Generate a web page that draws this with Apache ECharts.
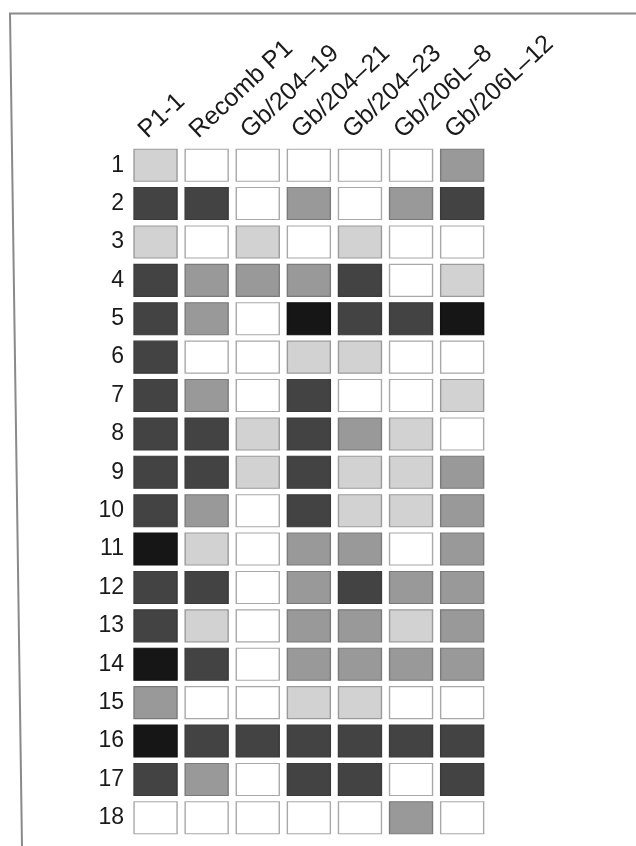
<!DOCTYPE html>
<html>
<head>
<meta charset="utf-8">
<script src="https://cdn.jsdelivr.net/npm/echarts@6/dist/echarts.min.js"></script>
<style>
html,body{margin:0;padding:0;background:#fff;}
#main{width:636px;height:846px;}
</style>
</head>
<body>
<div id="main"></div>
<script>
// Column (sample) labels
const columns = ['P1-1', 'Recomb P1', 'Gb/204\u201319', 'Gb/204\u201321', 'Gb/204\u201323', 'Gb/206L\u20138', 'Gb/206L\u201312'];
// Row labels
const rows = ['1','2','3','4','5','6','7','8','9','10','11','12','13','14','15','16','17','18'];
// Intensity level per row (0 = none ... 4 = strongest), one value per column
const row1  = [1,0,0,0,0,0,2];
const row2  = [3,3,0,2,0,2,3];
const row3  = [1,0,1,0,1,0,0];
const row4  = [3,2,2,2,3,0,1];
const row5  = [3,2,0,4,3,3,4];
const row6  = [3,0,0,1,1,0,0];
const row7  = [3,2,0,3,0,0,1];
const row8  = [3,3,1,3,2,1,0];
const row9  = [3,3,1,3,1,1,2];
const row10 = [3,2,0,3,1,1,2];
const row11 = [4,1,0,2,2,0,2];
const row12 = [3,3,0,2,3,2,2];
const row13 = [3,1,0,2,2,1,2];
const row14 = [4,3,0,2,2,2,2];
const row15 = [2,0,0,1,1,0,0];
const row16 = [4,3,3,3,3,3,3];
const row17 = [3,2,0,3,3,0,3];
const row18 = [0,0,0,0,0,2,0];
const levels = [row1,row2,row3,row4,row5,row6,row7,row8,row9,row10,row11,row12,row13,row14,row15,row16,row17,row18];

const fillColors   = ['#ffffff', '#d2d2d2', '#999999', '#434343', '#161616'];
const borderColors = ['#a8a8a8', '#9a9a9a', '#7a7a7a', '#3a3a3a', '#111111'];

const data = [];
levels.forEach((r, ri) => r.forEach((v, ci) => data.push({
  value: [ci, ri, v],
  itemStyle: {color: fillColors[v], borderColor: borderColors[v]}
})));

const chart = echarts.init(document.getElementById('main'), null, {renderer: 'canvas'});
const font = '"Liberation Sans", Arial, Helvetica, sans-serif';
chart.setOption({
  animation: false,
  backgroundColor: '#ffffff',
  graphic: [{
    type: 'polyline',
    shape: {points: [[22, 846], [10, 13.5], [640, 13.5]]},
    style: {stroke: '#8a8a8a', lineWidth: 2, fill: null},
    silent: true
  }],
  grid: [
    {left: 130, width: 357.7, top: 146, height: 691},
    {left: 117, width: 357.7, top: 146, height: 1}
  ],
  xAxis: [
    {type: 'category', gridIndex: 0, data: columns, position: 'top',
     axisLine: {show: false}, axisTick: {show: false}, axisLabel: {show: false}, splitLine: {show: false}},
    {type: 'category', gridIndex: 1, data: columns, position: 'top',
     axisLine: {show: false}, axisTick: {show: false}, splitLine: {show: false},
     axisLabel: {show: true, interval: 0, rotate: 43, margin: 12, align: 'left', verticalAlign: 'middle',
                 color: '#1a1a1a', fontSize: 25, fontFamily: font}}
  ],
  yAxis: [
    {type: 'category', gridIndex: 0, data: rows, inverse: true,
     axisLine: {show: false}, axisTick: {show: false}, splitLine: {show: false},
     axisLabel: {show: true, interval: 0, margin: 6, color: '#1a1a1a', fontSize: 23, fontFamily: font}},
    {type: 'value', gridIndex: 1, show: false}
  ],
  series: [{
    type: 'scatter',
    xAxisIndex: 0, yAxisIndex: 0,
    symbol: 'rect',
    symbolSize: [43, 32],
    data: data,
    itemStyle: {opacity: 1, borderWidth: 1.2},
    emphasis: {disabled: true}
  }]
});
</script>
</body>
</html>
